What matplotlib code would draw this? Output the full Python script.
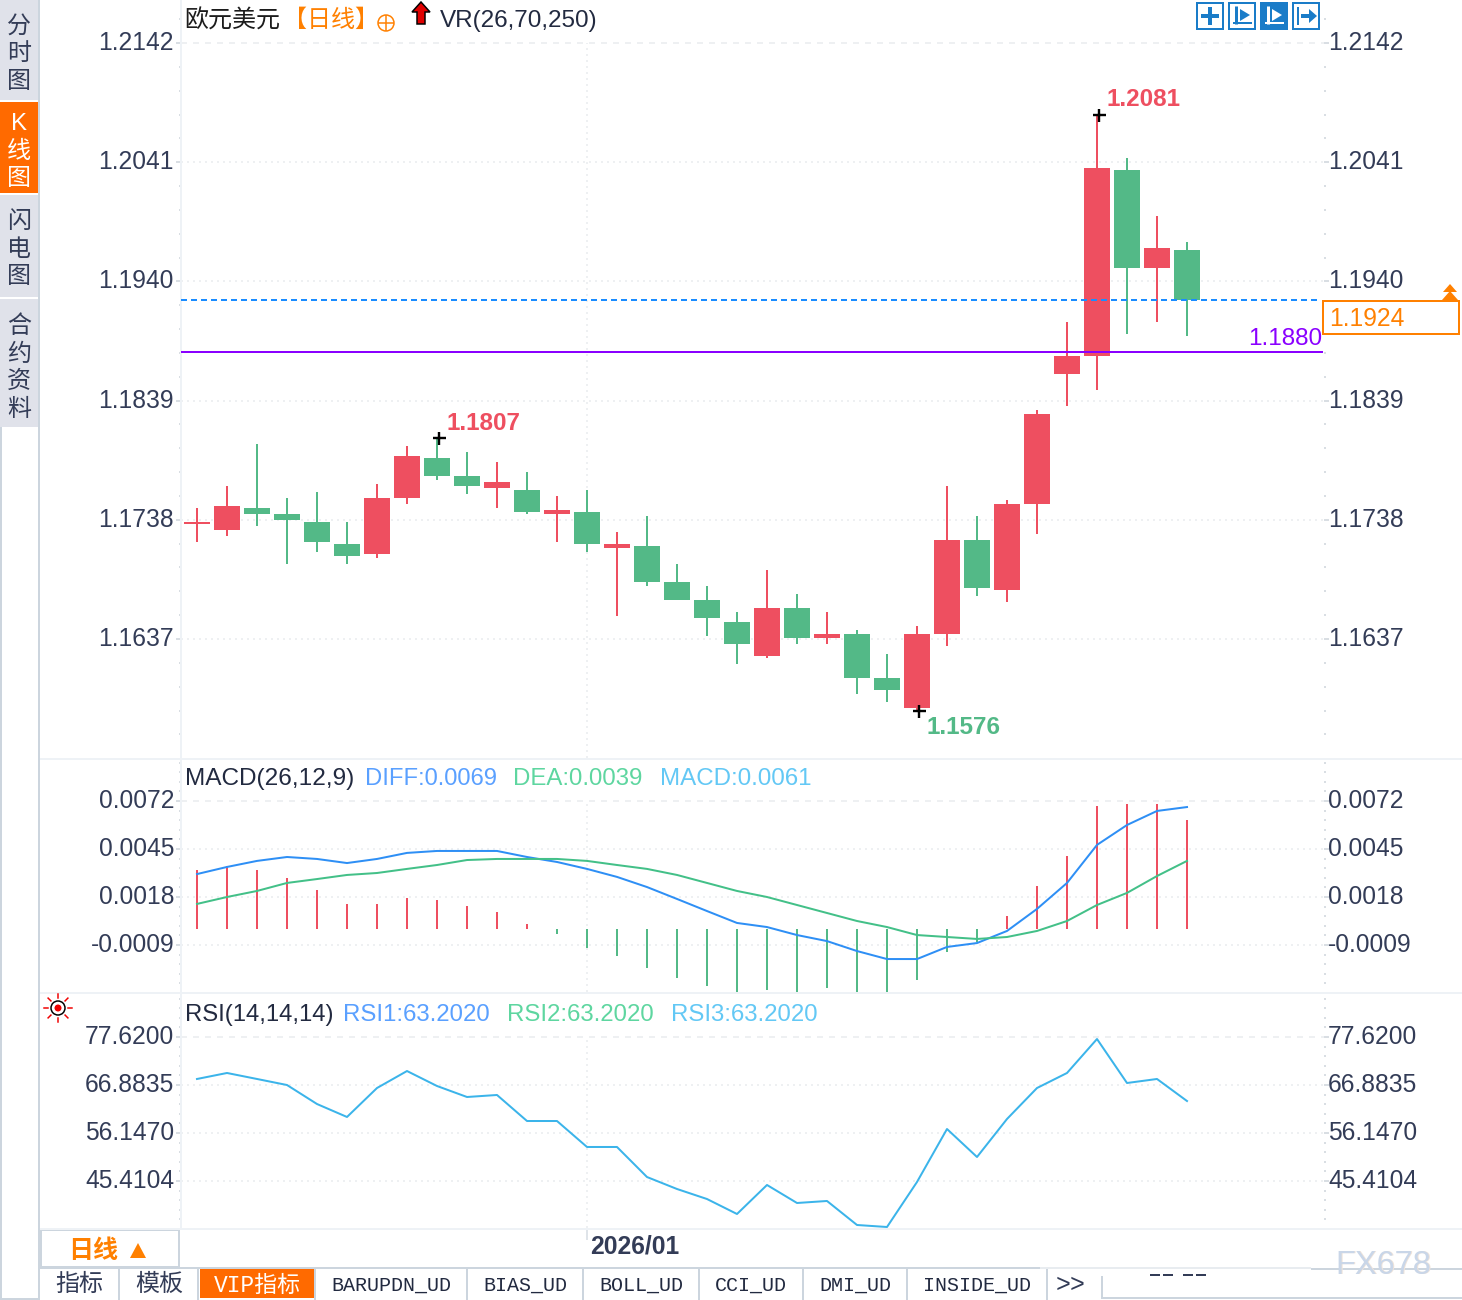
import numpy as np
import matplotlib
matplotlib.use('Agg')
import matplotlib.pyplot as plt
from matplotlib.patches import Rectangle, Circle, Polygon
from matplotlib.ticker import AutoMinorLocator
from matplotlib.transforms import ScaledTranslation

plt.rcParams['font.family'] = ['Liberation Sans', 'Noto Sans CJK SC', 'DejaVu Sans']

# daily candles
opens = [1.17345, 1.17294, 1.17480, 1.17429, 1.17361, 1.17175, 1.17090, 1.17565, 1.17904, 1.17751,
         1.17650, 1.17633, 1.17429, 1.17446, 1.17141, 1.17158, 1.16853, 1.16701, 1.16514, 1.16226,
         1.16633, 1.16379, 1.16413, 1.16040, 1.15786, 1.16413, 1.17209, 1.16785, 1.17514, 1.18615,
         1.18768, 1.20344, 1.19514, 1.19666]
closes = [1.17361, 1.17497, 1.17429, 1.17378, 1.17192, 1.17073, 1.17565, 1.17921, 1.17751, 1.17666,
          1.17700, 1.17446, 1.17463, 1.17175, 1.17175, 1.16853, 1.16701, 1.16548, 1.16328, 1.16633,
          1.16379, 1.16413, 1.16040, 1.15938, 1.16413, 1.17209, 1.16802, 1.17514, 1.18277, 1.18768,
          1.20361, 1.19514, 1.19683, 1.19240]
highs = [1.17480, 1.17666, 1.18022, 1.17565, 1.17616, 1.17361, 1.17683, 1.18005, 1.18073, 1.17955,
         1.17870, 1.17785, 1.17582, 1.17633, 1.17277, 1.17412, 1.17006, 1.16819, 1.16599, 1.16955,
         1.16751, 1.16599, 1.16446, 1.16243, 1.16480, 1.17666, 1.17412, 1.17548, 1.18310, 1.19056,
         1.20810, 1.20446, 1.19954, 1.19734]
lows = [1.17192, 1.17243, 1.17328, 1.17006, 1.17107, 1.17006, 1.17056, 1.17514, 1.17717, 1.17599,
        1.17480, 1.17429, 1.17192, 1.17107, 1.16565, 1.16819, 1.16701, 1.16396, 1.16158, 1.16209,
        1.16328, 1.16328, 1.15904, 1.15836, 1.15760, 1.16311, 1.16734, 1.16684, 1.17260, 1.18344,
        1.18480, 1.18954, 1.19056, 1.18937]

macd_hist = [0.00332, 0.00354, 0.00332, 0.00287, 0.00219, 0.00141, 0.00141, 0.00174, 0.00163, 0.00129,
             0.00096, 0.00028, -0.00028, -0.00107, -0.00152, -0.00219, -0.00276, -0.00321, -0.00354, -0.00343,
             -0.00354, -0.00332, -0.00354, -0.00354, -0.00287, -0.00129, -0.00073, 0.00073, 0.00242, 0.00411,
             0.00692, 0.00703, 0.00703, 0.00613]
diff_line = [0.00309, 0.00349, 0.00383, 0.00405, 0.00394, 0.00371, 0.00394, 0.00428, 0.00439, 0.00439,
             0.00439, 0.00405, 0.00377, 0.00338, 0.00293, 0.00236, 0.00169, 0.00101, 0.00034, 0.00011,
             -0.00034, -0.00068, -0.00124, -0.00169, -0.00169, -0.00101, -0.00079, -0.00011, 0.00113, 0.00259,
             0.00473, 0.00585, 0.00664, 0.00686]
dea_line = [0.00141, 0.00180, 0.00214, 0.00259, 0.00281, 0.00304, 0.00315, 0.00338, 0.00360, 0.00388,
            0.00394, 0.00394, 0.00394, 0.00383, 0.00360, 0.00338, 0.00304, 0.00259, 0.00214, 0.00180,
            0.00135, 0.00090, 0.00045, 0.00011, -0.00034, -0.00045, -0.00056, -0.00045, -0.00011, 0.00045,
            0.00135, 0.00203, 0.00298, 0.00383]
rsi_line = [68.23, 69.57, 68.23, 66.88, 62.63, 59.73, 66.21, 70.01, 66.66, 64.20,
            64.65, 58.83, 58.83, 53.02, 53.02, 46.30, 43.62, 41.38, 38.03, 44.52,
            40.49, 40.94, 35.57, 35.12, 45.19, 57.04, 50.78, 59.28, 66.21, 69.57,
            77.17, 67.33, 68.23, 63.30]

price_ticks = [1.2142, 1.2041, 1.1940, 1.1839, 1.1738, 1.1637]
price_labels = ['1.2142', '1.2041', '1.1940', '1.1839', '1.1738', '1.1637']
macd_ticks = [0.0072, 0.0045, 0.0018, -0.0009]
macd_labels = ['0.0072', '0.0045', '0.0018', '-0.0009']
rsi_ticks = [77.62, 66.8835, 56.147, 45.4104]
rsi_labels = ['77.6200', '66.8835', '56.1470', '45.4104']

last_price = 1.1924
level_price = 1.1880
month_start = 13

W, H = 1462, 1300
UP = '#ee4f60'
DOWN = '#53b987'
INK = '#333c57'
GRID = '#eef0f2'
LINE = '#ccd5de'
FS = 17.3  # 24px


def px(n):
    return n * 0.72


def make_panel(top, bottom, ylim, ticks, labels):
    ax = fig.add_axes([181 / W, 1 - bottom / H, (1324 - 181) / W, (bottom - top) / H])
    ax.set_xlim((181 - 197) / 30, (1324 - 197) / 30)
    ax.set_ylim(*ylim)
    ax.set_yticks(ticks, labels)
    ax.yaxis.set_minor_locator(AutoMinorLocator(5))
    ax.set_xticks([month_start], [''])
    ax.tick_params(axis='x', length=0)
    ax.tick_params(axis='y', which='major', left=True, right=True, labelleft=True, labelright=True,
                   length=px(5), width=px(2), color='#d9dee3', labelsize=17.7, labelcolor=INK, pad=px(2))
    ax.tick_params(axis='y', which='minor', left=True, right=True, length=px(2), width=px(2), color='#d9dee3')
    # labels sit a bit above their tick in the terminal
    for t in ax.yaxis.get_major_ticks():
        t.label1.set_transform(t.label1.get_transform() + ScaledTranslation(0, 2.5 / 100, fig.dpi_scale_trans))
        t.label2.set_transform(t.label2.get_transform() + ScaledTranslation(-3 / 100, 2.5 / 100, fig.dpi_scale_trans))
    ax.grid(True, color=GRID, lw=px(2), linestyle=(0, (1, 2)))
    ax.set_axisbelow(True)
    ax.get_ygridlines()[0].set_linestyle((0, (3, 3)))
    # the month line stops at the top gridline
    ax.get_xgridlines()[0].set_ydata([0, (ticks[0] - ylim[0]) / (ylim[1] - ylim[0])])
    for s in ['top', 'right', 'bottom']:
        ax.spines[s].set_visible(False)
    ax.spines['left'].set_color('#eef2f6')
    ax.spines['left'].set_linewidth(px(2))
    ax.patch.set_alpha(0)
    return ax


fig = plt.figure(figsize=(W / 100, H / 100), dpi=100, facecolor='white')
xs = np.arange(len(closes))

# price panel
ax1 = make_panel(0, 758, (1.2142 - 715 / 11802, 1.2142 + 43 / 11802), price_ticks, price_labels)
for i in xs:
    col = UP if closes[i] >= opens[i] else DOWN
    ax1.vlines(i, lows[i], highs[i], color=col, lw=px(2), zorder=2)
    ax1.bar(i, abs(closes[i] - opens[i]), bottom=min(opens[i], closes[i]), width=26 / 30, color=col, lw=0, zorder=2)
ax1.axhline(level_price, color='#8a00ff', lw=px(2), xmax=0.998, zorder=3)
ax1.axhline(last_price, color='#1a8cff', lw=px(2), linestyle=(0, (3, 2)), xmax=0.996, zorder=3)
hi_i, lo_i = int(np.argmax(highs)), int(np.argmin(lows))
nudge = ScaledTranslation(2 / 100, 0, fig.dpi_scale_trans)
ax1.plot([hi_i, lo_i, 8], [highs[hi_i], lows[lo_i], highs[8]], '+', color='black', ms=px(13), mew=px(2.4), zorder=4,
         transform=ax1.transData + nudge)

# macd panel
ax2 = make_panel(760, 992, ((929 - 992) * 0.00005625, (929 - 760) * 0.00005625), macd_ticks, macd_labels)
ax2.vlines(xs, 0, macd_hist, colors=[UP if v > 0 else DOWN for v in macd_hist], lw=px(2), zorder=2)
ax2.plot(xs, diff_line, color='#2e8ff5', lw=px(2), zorder=3)
ax2.plot(xs, dea_line, color='#43c088', lw=px(2), zorder=3)

# rsi panel
ax3 = make_panel(994, 1228, (77.62 - 191 * 0.22368, 77.62 + 43 * 0.22368), rsi_ticks, rsi_labels)
ax3.plot(xs, rsi_line, color='#3bb4ea', lw=px(2), zorder=3)

# overlay in pixel coordinates for the terminal chrome and texts
ov = fig.add_axes([0, 0, 1, 1], zorder=10)
ov.set_xlim(0, W)
ov.set_ylim(H, 0)
ov.axis('off')
ov.patch.set_alpha(0)


def txt(x, y, s, color=INK, size=FS, ha='left', weight='normal', **kw):
    ov.text(x, y, s, color=color, fontsize=size, ha=ha, va='center', fontweight=weight, **kw)


def hline(y, x0, x1, color='#eef2f6', lw=2):
    ov.plot([x0, x1], [y, y], color=color, lw=px(lw), solid_capstyle='butt')


def vline(x, y0, y1, color=LINE, lw=2):
    ov.plot([x, x], [y0, y1], color=color, lw=px(lw), solid_capstyle='butt')


# side tabs
vline(1, 427, 1300)
vline(39, 0, 1300)
hline(1299, 0, 39, color=LINE)
tabs = [(0, 100, '分时图', 27, False), (102, 193, 'K线图', 124, True),
        (195, 297, '闪电图', 222, False), (299, 427, '合约资料', 327, False)]
for y0, y1, s, first, active in tabs:
    ov.add_patch(Rectangle((0, y0), 38, y1 - y0, color='#ff6a00' if active else '#e0e2ea', lw=0))
    for k, ch in enumerate(s):
        txt(19, first + 27.5 * k, ch, color='white' if active else INK, ha='center')

# separators
hline(759, 40, W)
hline(993, 40, W)
hline(1229, 40, W)

# header
txt(184, 21, '欧元美元', color='#1c1c1c')
txt(283, 21, '【日线】', color='#ff8000')
ov.add_patch(Circle((386, 23), 8, fill=False, ec='#ff8000', lw=px(1.5)))
hline(23, 378, 394, color='#ff8000', lw=1.5)
vline(386, 15, 31, color='#ff8000', lw=1.5)
ov.add_patch(Polygon([(421, 2), (430, 12), (425, 12), (425, 24), (417, 24), (417, 12), (412, 12)],
                     fc='#e00000', ec='black', lw=px(1.5)))
txt(440, 21, 'VR(26,70,250)', color='#222a40', size=17.5)

# toolbar
for n, x0 in enumerate([1197, 1229, 1261, 1293]):
    ov.add_patch(Rectangle((x0, 3), 26, 26, fc='#1a7cc8' if n == 2 else 'white', ec='#1a7cc8', lw=px(2)))
    mark = 'white' if n == 2 else '#1a7cc8'
    if n == 0:
        hline(16, x0 + 4, x0 + 22, color=mark, lw=4)
        vline(x0 + 13, 7, 25, color=mark, lw=4)
        ov.add_patch(Rectangle((x0 + 10, 13), 6, 6, color='white', lw=0))
    elif n == 3:
        vline(x0 + 5, 7, 25, color=mark, lw=2)
        hline(16, x0 + 8, x0 + 18, color=mark, lw=4)
        ov.add_patch(Polygon([(x0 + 16, 9), (x0 + 24, 16), (x0 + 16, 23)], color=mark, lw=0))
    else:
        vline(x0 + 7, 6, 24, color=mark, lw=3)
        hline(23, x0 + 4, x0 + 23, color=mark, lw=2)
        ov.add_patch(Polygon([(x0 + 11, 9), (x0 + 21, 15), (x0 + 11, 21)], color=mark, lw=0))

# price annotations
txt(1107, 100, '1.2081', color=UP, weight='bold', size=17.5)
txt(447, 424, '1.1807', color=UP, weight='bold', size=17.5)
txt(927, 728, '1.1576', color=DOWN, weight='bold', size=17.5)
txt(1322, 339, '1.1880', color='#8a00ff', ha='right', size=17.5)

# last price box
ov.add_patch(Rectangle((1323, 301), 136, 33, fc='white', ec='#ff8000', lw=px(2)))
txt(1329, 319, '1.1924', color='#ff8000', size=17.7)
ov.add_patch(Polygon([(1450, 284), (1457, 292), (1443, 292)], color='#ff8000', lw=0))
ov.add_patch(Polygon([(1450, 291), (1458, 300), (1442, 300)], color='#ff8000', lw=0))

# indicator legends
txt(185, 779, 'MACD(26,12,9)', color='#222a40', size=17.6)
txt(365, 779, 'DIFF:0.0069', color='#5aa0ff', size=17.1)
txt(513, 779, 'DEA:0.0039', color='#5ed6a0')
txt(660, 779, 'MACD:0.0061', color='#63c8f5', size=17.4)
txt(185, 1015, 'RSI(14,14,14)', color='#222a40', size=17.2)
txt(343, 1015, 'RSI1:63.2020', color='#5aa0ff')
txt(507, 1015, 'RSI2:63.2020', color='#5ed6a0')
txt(671, 1015, 'RSI3:63.2020', color='#63c8f5')

# little sun icon next to RSI
ov.add_patch(Circle((58, 1008), 7, fc='white', ec='black', lw=px(1.5)))
ov.add_patch(Circle((58, 1008), 3.5, color='#f00000', lw=0))
for a in np.arange(8) * np.pi / 4:
    ov.plot([58 + 10 * np.cos(a), 58 + 14 * np.cos(a)], [1008 + 10 * np.sin(a), 1008 + 14 * np.sin(a)],
            color='#f00000', lw=px(1.5))

# period box and date
ov.add_patch(Rectangle((41, 1230), 138, 37, fc='white', ec=LINE, lw=px(2)))
txt(68, 1251, '日线', color='#ff8000', weight='bold', size=18)
ov.add_patch(Polygon([(138, 1243), (146, 1258), (130, 1258)], color='#ff8000', lw=0))
vline(587, 1230, 1240, color='#dfe4e9')
txt(590, 1246, '2026/01', weight='bold', size=17.7)

# bottom tabs
hline(1268, 40, 1040, color=LINE)
hline(1268, 1040, 1311, color='#e8ecf0')
hline(1269, 1311, W, color=LINE)
ov.add_patch(Rectangle((200, 1269), 115, 29, color='#ff6a00', lw=0))
for x in [119, 198, 315, 467, 583, 699, 803, 907, 1047]:
    vline(x, 1269, 1300)
vline(1102, 1276, 1298)
hline(1298, 1101, W, color=LINE)
for x, s in [(79, '指标'), (159, '模板')]:
    txt(x, 1285, s, ha='center')
txt(257, 1285, 'VIP指标', color='white', ha='center', family=['Liberation Mono', 'Noto Sans CJK SC'], size=16.5)
for x, s in [(391, 'BARUPDN_UD'), (525, 'BIAS_UD'), (641, 'BOLL_UD'), (751, 'CCI_UD'), (855, 'DMI_UD'), (977, 'INSIDE_UD')]:
    txt(x, 1285, s, ha='center', family='Liberation Mono', size=14.4, color='#222a40')
txt(1071, 1285, '>>', ha='center', family='Liberation Mono', size=18)
for x0, x1 in [(1150, 1160), (1163, 1173), (1183, 1193), (1196, 1206)]:
    hline(1275, x0, x1, color='#333c57')
ov.text(1384.5, 1266, 'FX678', color='#f0e4da', fontsize=23.5, ha='center', va='center')
ov.text(1383.5, 1265, 'FX678', color='#c9d6e8', fontsize=23.5, ha='center', va='center')

fig.savefig('out.png', dpi=100)
